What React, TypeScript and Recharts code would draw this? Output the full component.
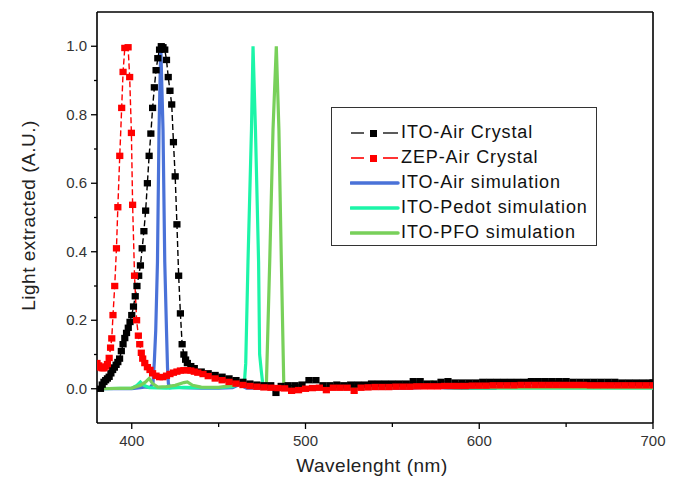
import {
  Legend,
  Line,
  LineChart,
  ReferenceLine,
  XAxis,
  YAxis,
} from "recharts";

const FONT = '"Liberation Sans", Arial, sans-serif';

// ITO-Air Crystal (measured)
const itoAirCrystalNm = [
  382, 383, 384, 385, 386, 387, 388, 389, 390, 391, 392, 393, 394, 395, 396,
  397, 398, 399, 400, 401, 402, 403, 404, 405, 406, 407, 408, 409, 410, 411,
  412, 413, 414, 415, 416, 417, 418, 419, 420, 421, 422, 423, 424, 425, 426,
  427, 428, 429, 430, 431, 432, 434, 436, 440, 444, 448, 452, 456, 460, 464,
  468, 472, 476, 480, 483, 486, 490, 494, 498, 502, 506, 510, 514, 518, 522,
  526, 530, 534, 538, 542, 546, 550, 554, 558, 562, 566, 570, 574, 578, 582,
  586, 590, 594, 598, 602, 606, 610, 614, 618, 622, 626, 630, 634, 638, 642,
  646, 650, 654, 658, 662, 666, 670, 674, 678, 682, 686, 690, 694, 698, 700,
];
const itoAirCrystalVal = [
  0.0, 0.012, 0.02, 0.025, 0.03, 0.035, 0.045, 0.055, 0.062, 0.07, 0.078,
  0.088, 0.11, 0.13, 0.148, 0.163, 0.178, 0.195, 0.215, 0.24, 0.27, 0.3, 0.33,
  0.36, 0.41, 0.46, 0.52, 0.6, 0.68, 0.745, 0.82, 0.88, 0.93, 0.965, 0.99, 1.0,
  0.997, 0.99, 0.96, 0.91, 0.87, 0.83, 0.72, 0.62, 0.48, 0.33, 0.22, 0.13, 0.1,
  0.085, 0.075, 0.066, 0.06, 0.05, 0.045, 0.04, 0.035, 0.03, 0.025, 0.02, 0.015,
  0.012, 0.01, 0.01, -0.012, 0.008, 0.01, 0.01, 0.012, 0.025, 0.025, 0.01,
  0.01, 0.012, 0.01, 0.012, 0.012, 0.012, 0.015, 0.015, 0.015, 0.015, 0.015,
  0.015, 0.022, 0.022, 0.015, 0.015, 0.02, 0.022, 0.018, 0.018, 0.018, 0.018,
  0.02, 0.02, 0.02, 0.02, 0.02, 0.02, 0.02, 0.022, 0.022, 0.022, 0.022, 0.022,
  0.022, 0.02, 0.02, 0.02, 0.02, 0.02, 0.02, 0.02, 0.018, 0.018, 0.018, 0.018,
  0.018, 0.018,
];

// ZEP-Air Crystal (measured)
const zepAirCrystalNm = [
  380, 381, 382, 383, 384, 385, 386, 387, 387.8, 388.5, 389.2, 390.2, 391.2,
  392, 393.1, 394.2, 395, 396, 397.9, 398.8, 399.8, 400.5, 401.6, 402.8, 403.8,
  404.6, 405.5, 406.3, 407.5, 409, 410.5, 412, 414, 416, 418, 420, 422, 424,
  426, 428, 430, 432, 434, 436, 438, 441, 444, 448, 452, 456, 460, 464, 468,
  472, 476, 480, 484, 488, 492, 496, 500, 504, 508, 512, 516, 520, 524, 528,
  532, 536, 540, 544, 548, 552, 556, 560, 564, 568, 572, 576, 580, 584, 588,
  592, 596, 600, 604, 608, 612, 616, 620, 624, 628, 632, 636, 640, 644, 648,
  652, 656, 660, 664, 668, 672, 676, 680, 684, 688, 692, 696, 700,
];
const zepAirCrystalVal = [
  0.075, 0.068, 0.062, 0.06, 0.06, 0.065, 0.072, 0.09, 0.12, 0.147, 0.215, 0.3,
  0.41, 0.53, 0.68, 0.82, 0.925, 0.995, 0.997, 0.91, 0.747, 0.537, 0.33, 0.2,
  0.155, 0.13, 0.105, 0.088, 0.075, 0.063, 0.055, 0.045, 0.038, 0.034, 0.034,
  0.038, 0.043, 0.047, 0.05, 0.053, 0.054, 0.054, 0.053, 0.05, 0.047, 0.043,
  0.037, 0.03, 0.025, 0.02, 0.015, 0.011, 0.008, 0.006, 0.004, 0.003, 0.002,
  0.001, -0.006, -0.004, 0.0, 0.002, 0.003, -0.004, 0.003, 0.003, 0.003,
  -0.006, 0.003, 0.004, 0.005, 0.005, 0.005, 0.006, 0.006, 0.006, 0.007, 0.007,
  0.007, 0.007, 0.008, 0.008, 0.008, 0.008, 0.009, 0.009, 0.009, 0.01, 0.01,
  0.01, 0.01, 0.011, 0.011, 0.011, 0.011, 0.011, 0.011, 0.011, 0.011, 0.011,
  0.011, 0.01, 0.01, 0.01, 0.01, 0.01, 0.01, 0.01, 0.01, 0.01, 0.01,
];

// ITO-Air simulation
const itoAirSimNm = [
  380, 390, 400, 405, 408, 410, 411, 412.2, 413, 413.8, 414.8, 415.7, 416.7,
  418, 419, 420, 420.6, 421.1, 422, 425, 430, 440, 450, 458, 462, 466, 480,
  500, 520, 540, 560, 568, 573, 578, 590, 610,
];
const itoAirSimVal = [
  0.0, 0.0, 0.0, 0.003, 0.005, 0.004, 0.006, 0.015, 0.08, 0.17, 0.37, 0.756,
  1.0, 0.756, 0.37, 0.17, 0.06, 0.015, 0.003, 0.005, 0.003, 0.002, 0.002,
  0.003, 0.012, 0.002, 0.001, 0.0, 0.001, 0.001, 0.002, 0.004, 0.012, 0.003,
  0.001, 0.001,
];

// ITO-Pedot simulation
const itoPedotSimNm = [
  380, 400, 403, 405, 407, 410, 420, 430, 440, 450, 458, 462, 464, 465, 465.6,
  466.9, 468.9, 469.8, 471.2, 473, 473.6, 474.6, 475.5, 477, 490, 510, 540,
  555, 562, 566, 570, 574, 580, 600, 650, 700,
];
const itoPedotSimVal = [
  0.0, 0.002, 0.01, 0.02, 0.01, 0.003, 0.002, 0.004, 0.003, 0.003, 0.006,
  0.015, 0.02, 0.03, 0.074, 0.37, 0.756, 1.0, 0.756, 0.37, 0.1, 0.05, 0.01,
  0.003, 0.001, 0.001, 0.002, 0.004, 0.015, 0.02, 0.015, 0.012, 0.003, 0.002,
  0.002, 0.002,
];

// ITO-PFO simulation
const itoPfoSimNm = [
  380, 400, 405, 408, 410, 412, 415, 420, 425, 430, 432, 435, 440, 450, 458,
  461, 464, 468, 472, 476, 477.5, 479.4, 481.3, 483.2, 484.7, 486.1, 487.5,
  490, 500, 520, 540, 560, 568, 573, 578, 585, 600, 650, 700,
];
const itoPfoSimVal = [
  0.0, 0.002, 0.01, 0.02, 0.03, 0.015, 0.005, 0.006, 0.01, 0.018, 0.02, 0.01,
  0.005, 0.004, 0.01, 0.02, 0.01, 0.006, 0.004, 0.004, 0.015, 0.37, 0.756, 1.0,
  0.756, 0.37, 0.015, 0.003, 0.003, 0.003, 0.003, 0.005, 0.012, 0.02, 0.01,
  0.003, 0.003, 0.003, 0.003,
];

const xTicks = [400, 450, 500, 550, 600, 650, 700];
const yTicks = [0, 0.1, 0.2, 0.3, 0.4, 0.5, 0.6, 0.7, 0.8, 0.9, 1.0];

const toPoints = (nm: number[], val: number[]) =>
  nm.map((x, i) => ({ x, y: val[i] }));

const series = [
  { name: "ITO-Air Crystal", color: "#000000", marker: true, data: toPoints(itoAirCrystalNm, itoAirCrystalVal) },
  { name: "ZEP-Air Crystal", color: "#ff0000", marker: true, data: toPoints(zepAirCrystalNm, zepAirCrystalVal) },
  { name: "ITO-Air simulation", color: "#4a72d8", marker: false, data: toPoints(itoAirSimNm, itoAirSimVal) },
  { name: "ITO-Pedot simulation", color: "#1cf5a8", marker: false, data: toPoints(itoPedotSimNm, itoPedotSimVal) },
  { name: "ITO-PFO simulation", color: "#78d05a", marker: false, data: toPoints(itoPfoSimNm, itoPfoSimVal) },
];

const squareDot = (color: string) => (props: any) => {
  const { cx, cy, index } = props;
  if (cx == null || cy == null) return <g key={index} />;
  return <rect key={index} x={cx - 3.6} y={cy - 3.2} width={7.2} height={6.4} fill={color} />;
};

const YTick = (props: any) => {
  const { x, y, payload } = props;
  const v = payload.value;
  const major = Math.round(v * 10) % 2 === 0;
  return (
    <g>
      <line x1={x - (major ? 6 : 3)} x2={x} y1={y} y2={y} stroke="#000" strokeWidth={1.3} />
      {major && (
        <text x={x - 10} y={y} dy={5} textAnchor="end" fontFamily={FONT} fontSize={15} fill="#333">
          {v.toFixed(1)}
        </text>
      )}
    </g>
  );
};

const XTick = (props: any) => {
  const { x, y, payload } = props;
  const v = payload.value;
  const major = v % 100 === 0;
  return (
    <g>
      <line x1={x} x2={x} y1={y} y2={y + (major ? 6 : 4)} stroke="#000" strokeWidth={1.3} />
      {major && (
        <text x={x} y={y + 23} textAnchor="middle" fontFamily={FONT} fontSize={15} fill="#333">
          {v}
        </text>
      )}
    </g>
  );
};

const LegendBox = () => (
  <div
    style={{
      border: "1px solid #333",
      width: 266,
      height: 139,
      boxSizing: "border-box",
      paddingTop: 12,
      background: "#fff",
      fontFamily: FONT,
    }}
  >
    {series.map((s) => (
      <div key={s.name} style={{ display: "flex", alignItems: "center", height: 25 }}>
        <svg width={50} height={12} style={{ marginLeft: 18 }}>
          {s.marker ? (
            <g>
              <line x1={1} x2={14} y1={6} y2={6} stroke={s.color === "#000000" ? "#333" : s.color} strokeWidth={1.6} />
              <rect x={20} y={3} width={7} height={7} fill={s.color} />
              <line x1={33} x2={48} y1={6} y2={6} stroke={s.color === "#000000" ? "#333" : s.color} strokeWidth={1.6} />
            </g>
          ) : (
            <line x1={1} x2={48} y1={6} y2={6} stroke={s.color} strokeWidth={3.5} strokeLinecap="round" />
          )}
        </svg>
        <span style={{ fontSize: 18, letterSpacing: 0.9, color: "#111", marginLeft: 1 }}>{s.name}</span>
      </div>
    ))}
  </div>
);

export default function App() {
  return (
    <div style={{ position: "absolute", left: 0, top: 0, width: 683, height: 479, background: "#fff" }}>
      <LineChart width={683} height={479} margin={{ top: 12, right: 30, bottom: 0, left: 0 }}>
        <XAxis
          dataKey="x"
          type="number"
          domain={[380, 700]}
          ticks={xTicks}
          allowDataOverflow
          height={56}
          tickSize={0}
          tickMargin={0}
          tick={<XTick />}
          axisLine={{ stroke: "#000", strokeWidth: 1.6 }}
          tickLine={false}
          interval={0}
          label={{
            content: (p: any) => {
              const vb = p.viewBox;
              return (
                <text x={vb.x + vb.width / 2 - 3} y={vb.y + 49} textAnchor="middle" fontFamily={FONT} fontSize={19} letterSpacing={0.5} fill="#222">
                  Wavelenght (nm)
                </text>
              );
            },
          }}
        />
        <YAxis
          dataKey="y"
          type="number"
          domain={[-0.1, 1.1]}
          ticks={yTicks}
          allowDataOverflow
          width={97}
          tickSize={0}
          tickMargin={0}
          tick={<YTick />}
          axisLine={{ stroke: "#000", strokeWidth: 1.6 }}
          tickLine={false}
          interval={0}
          label={{
            content: (p: any) => {
              const vb = p.viewBox;
              const cx = 28;
              const cy = vb.y + vb.height / 2 - 2;
              return (
                <text x={cx} y={cy} transform={`rotate(-90 ${cx} ${cy})`} textAnchor="middle" dominantBaseline="central" fontFamily={FONT} fontSize={19} letterSpacing={0.5} fill="#222">
                  Light extracted (A.U.)
                </text>
              );
            },
          }}
        />
        <ReferenceLine y={1.1} stroke="#000" strokeWidth={1.6} />
        <ReferenceLine x={700} stroke="#000" strokeWidth={1.6} />
        {series.map((s) => (
          <Line
            key={s.name}
            data={s.data}
            dataKey="y"
            name={s.name}
            type="linear"
            stroke={s.color}
            strokeWidth={s.marker ? 1.4 : 3.2}
            strokeDasharray={s.marker ? "6 3" : undefined}
            dot={s.marker ? squareDot(s.color) : false}
            activeDot={false}
            isAnimationActive={false}
          />
        ))}
        <Legend
          layout="horizontal"
          verticalAlign="middle"
          align="center"
          content={<LegendBox />}
          wrapperStyle={{ left: 331, top: 107, width: 266, height: 139 }}
        />
      </LineChart>
    </div>
  );
}
